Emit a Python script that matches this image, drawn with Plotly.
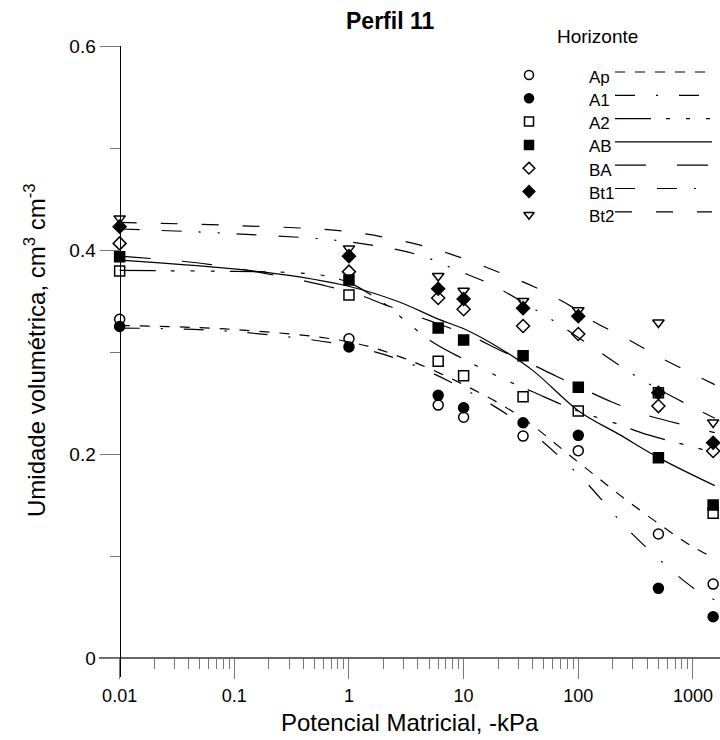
import plotly.graph_objects as go

# ---------------- data ----------------
psi = [0.01, 1, 6, 10, 33, 100, 500, 1500]
horizons = ["Ap", "A1", "A2", "AB", "BA", "Bt1", "Bt2"]
theta_Ap = [0.332, 0.313, 0.248, 0.236, 0.2176, 0.2033, 0.1216, 0.0725]
theta_A1 = [0.325, 0.305, 0.2575, 0.2454, 0.2307, 0.2183, 0.0683, 0.0405]
theta_A2 = [0.3794, 0.356, 0.291, 0.2768, 0.2562, 0.2422, 0.260, 0.142]
theta_AB = [0.3934, 0.3706, 0.3235, 0.3118, 0.2964, 0.2654, 0.1964, 0.150]
theta_BA = [0.4065, 0.3788, 0.353, 0.342, 0.3255, 0.3176, 0.247, 0.203]
theta_Bt1 = [0.4229, 0.394, 0.362, 0.352, 0.343, 0.335, 0.260, 0.211]
theta_Bt2 = [0.431, 0.4016, 0.3745, 0.360, 0.350, 0.341, 0.329, 0.231]

# fitted curves (kPa, theta)
fit_Ap_x = [0.01, 0.1, 1, 3, 10, 30, 100, 300, 1000, 1550]
fit_Ap_y = [0.326, 0.322, 0.310, 0.294, 0.268, 0.238, 0.192, 0.150, 0.109, 0.098]
fit_A1_x = [0.01, 0.1, 1, 3, 10, 30, 100, 300, 1000, 1550]
fit_A1_y = [0.3235, 0.320, 0.306, 0.291, 0.264, 0.231, 0.180, 0.121, 0.069, 0.057]
fit_A2_x = [0.01, 0.1, 0.3, 0.6, 1, 2, 3, 5.3, 10, 20, 40, 100, 200, 400, 1000, 1550]
fit_A2_y = [0.380, 0.379, 0.378, 0.375, 0.368, 0.348, 0.332, 0.310, 0.293, 0.276, 0.261, 0.242, 0.231, 0.219, 0.207, 0.201]
fit_AB_x = [0.01, 0.19, 1.03, 2.75, 5.8, 10.6, 20.5, 40, 103, 229, 510, 1550]
fit_AB_y = [0.390, 0.378, 0.364, 0.349, 0.333, 0.3216, 0.304, 0.282, 0.2415, 0.219, 0.196, 0.169]
fit_BA_x = [0.01, 0.06, 0.37, 0.67, 1.23, 2.1, 11.9, 20.5, 37.6, 65, 196, 299, 396, 1550]
fit_BA_y = [0.394, 0.386, 0.3706, 0.364, 0.356, 0.346, 0.315, 0.302, 0.289, 0.276, 0.251, 0.243, 0.238, 0.221]
fit_Bt1_x = [0.01, 0.1, 1.0, 4.1, 8.8, 17.5, 43, 60, 196, 311, 510, 1550]
fit_Bt1_y = [0.4206, 0.416, 0.408, 0.395, 0.380, 0.366, 0.341, 0.331, 0.292, 0.277, 0.263, 0.235]
fit_Bt2_x = [0.01, 0.1, 1.0, 4.1, 9.2, 20.5, 43, 89, 126, 265, 510, 1550]
fit_Bt2_y = [0.427, 0.424, 0.418, 0.405, 0.393, 0.378, 0.363, 0.344, 0.332, 0.313, 0.295, 0.268]

x_tickvals = [0.01, 0.1, 1, 10, 100, 1000]
x_ticktext = ["0.01", "0.1", "1", "10", "100", "1000"]
y_tickvals = [0, 0.2, 0.4, 0.6]
y_ticktext = ["0", "0.2", "0.4", "0.6"]

# ---------------- styles ----------------
FONT = "Liberation Sans, Arial, sans-serif"
markers = {
    "Ap": "circle-open", "A1": "circle", "A2": "square-open", "AB": "square",
    "BA": "diamond-open", "Bt1": "diamond", "Bt2": "triangle-down-open",
}
dashes = {
    "Ap": "10px,10px",
    "A1": "20px,21px,2px,21px",
    "A2": "36px,15px,4px,16px,4px,16px,4px,15px",
    "AB": "solid",
    "BA": "31px,31px",
    "Bt1": "20px,22px,20px,17px,2px,17px,2px,17px",
    "Bt2": "17px,24px",
}
thetas = dict(Ap=theta_Ap, A1=theta_A1, A2=theta_A2, AB=theta_AB, BA=theta_BA,
              Bt1=theta_Bt1, Bt2=theta_Bt2)
fits = dict(Ap=(fit_Ap_x, fit_Ap_y), A1=(fit_A1_x, fit_A1_y), A2=(fit_A2_x, fit_A2_y),
            AB=(fit_AB_x, fit_AB_y), BA=(fit_BA_x, fit_BA_y), Bt1=(fit_Bt1_x, fit_Bt1_y),
            Bt2=(fit_Bt2_x, fit_Bt2_y))

W, H = 720, 740
PL, PR, PT, PB = 99, 720, 46, 677          # plot area in window pixels


def px(x):   # window pixel -> paper x
    return (x - PL) / (PR - PL)


def py(y):   # window pixel -> paper y
    return 1 - (y - PT) / (PB - PT)


fig = go.Figure()
for h in horizons:
    fx, fy = fits[h]
    fig.add_trace(go.Scatter(x=fx, y=fy, mode="lines", line_shape="spline",
                             line=dict(color="black", width=1.2, dash=dashes[h]),
                             showlegend=False, hoverinfo="skip"))
for h in horizons:
    fig.add_trace(go.Scatter(x=psi, y=thetas[h], mode="markers", name=h,
                             marker=dict(symbol=markers[h], size=10, color="black",
                                         line=dict(color="black", width=1.5)),
                             cliponaxis=False, showlegend=False))

# ---------------- custom legend (overlay pixel axes) ----------------
leg_y0, leg_dy = 75, 23.3
for i, h in enumerate(horizons):
    yy = leg_y0 + i * leg_dy
    fig.add_trace(go.Scatter(x=[529], y=[yy], xaxis="x2", yaxis="y2", mode="markers",
                             marker=dict(symbol=markers[h], size=9, color="black",
                                         line=dict(color="black", width=1.5)),
                             showlegend=False, hoverinfo="skip", cliponaxis=False))
    fig.add_trace(go.Scatter(x=[615, 712], y=[yy - 3, yy - 3], xaxis="x2", yaxis="y2",
                             mode="lines", line=dict(color="black", width=1.2, dash=dashes[h]),
                             showlegend=False, hoverinfo="skip"))
    fig.add_annotation(x=px(587), y=py(yy + 2), xref="paper", yref="paper", text=h,
                       showarrow=False, xanchor="left", yanchor="middle",
                       font=dict(family=FONT, size=17, color="black"))
fig.add_annotation(x=px(597), y=py(36), xref="paper", yref="paper", text="Horizonte",
                   showarrow=False, xanchor="center", yanchor="middle",
                   font=dict(family=FONT, size=19, color="black"))

fig.add_annotation(x=px(410), y=py(722), xref="paper", yref="paper",
                   text="Potencial Matricial, -kPa", showarrow=False,
                   xanchor="center", yanchor="middle",
                   font=dict(family=FONT, size=24, color="black"))
fig.add_annotation(x=px(35), y=py(350), xref="paper", yref="paper",
                   text="Umidade volumétrica, cm<sup>3</sup> cm<sup>-3</sup>",
                   showarrow=False, xanchor="center", yanchor="middle", textangle=-90,
                   font=dict(family=FONT, size=24, color="black"))
fig.add_annotation(x=px(390), y=py(21), xref="paper", yref="paper",
                   text="<b>Perfil 11</b>", showarrow=False,
                   xanchor="center", yanchor="middle",
                   font=dict(family=FONT, size=23, color="black"))

xr = [-2.18, 3.236]
yr = [-0.0186, 0.6]
x_axis_pos = (0 - yr[0]) / (yr[1] - yr[0])
y_axis_pos = (-2 - xr[0]) / (xr[1] - xr[0])

minor_x = [m * 10 ** e for e in range(-2, 4) for m in range(2, 10) if m * 10 ** e < 1700]

fig.update_layout(
    width=W, height=H,
    margin=dict(l=PL, r=W - PR, t=PT, b=H - PB, pad=0),
    paper_bgcolor="white", plot_bgcolor="white",
    font=dict(family=FONT, color="black"),
    xaxis=dict(type="log", range=xr, anchor="free", position=x_axis_pos, automargin=False,
               showline=True, linecolor="#666", linewidth=1.5,
               tickmode="array", tickvals=x_tickvals, ticktext=x_ticktext,
               ticks="outside", ticklen=20, tickwidth=1.2, tickcolor="#777",
               tickfont=dict(size=18), ticklabelstandoff=2, showgrid=False, zeroline=False,
               minor=dict(tickmode="array", tickvals=minor_x, ticks="outside", ticklen=10,
                          tickwidth=1.2, tickcolor="#777", showgrid=False)),
    yaxis=dict(range=yr, anchor="free", position=y_axis_pos, automargin=False,
               showline=True, linecolor="black", linewidth=1.2,
               tickmode="array", tickvals=y_tickvals, ticktext=y_ticktext,
               ticks="outside", ticklen=20, tickwidth=1.2, tickcolor="#777",
               tickfont=dict(size=19), showgrid=False, zeroline=False,
               minor=dict(tickmode="array", tickvals=[0.1, 0.3, 0.5], ticks="outside",
                          ticklen=10, tickwidth=1.2, tickcolor="#777", showgrid=False)),
    xaxis2=dict(range=[PL, PR], overlaying="x", anchor="y2", visible=False),
    yaxis2=dict(range=[PB, PT], overlaying="y", anchor="x2", visible=False),
)

fig.write_html("out.html", config={"displayModeBar": False},
               post_script="document.body.style.margin='0';document.body.style.overflow='hidden';")
